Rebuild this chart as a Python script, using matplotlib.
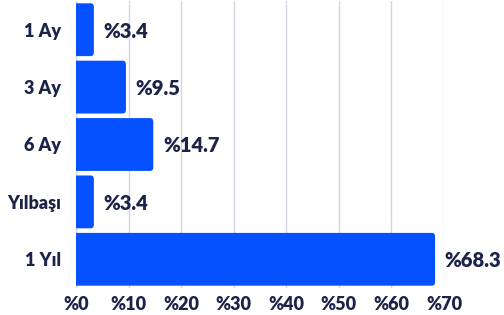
import matplotlib.pyplot as plt
from matplotlib.patches import FancyBboxPatch

categories = ["1 Ay", "3 Ay", "6 Ay", "Yılbaşı", "1 Yıl"]
values = [3.4, 9.5, 14.7, 3.4, 68.3]
xticks = [0, 10, 20, 30, 40, 50, 60, 70]

bar_color = "#0551FF"
text_color = "#1B2448"
grid_color = "#D3D6E2"

plt.rcParams["font.family"] = ["Lato", "DejaVu Sans"]

fig = plt.figure(figsize=(5.04, 3.15), dpi=100)
ax = fig.add_axes([76 / 504, 1 - 288 / 315, (444 - 76) / 504, 287 / 315])

ypos = list(range(len(categories)))
bars = ax.barh(ypos, values, height=0.92, color=bar_color, zorder=3)

# swap plain bars for ones with rounded right corners
for b in bars:
    x0, y0, w, h = b.get_x(), b.get_y(), b.get_width(), b.get_height()
    b.set_visible(False)
    p = FancyBboxPatch((x0 - 1.0, y0), w + 1.0, h,
                       boxstyle="round,pad=0,rounding_size=0.6",
                       mutation_aspect=0.11,
                       facecolor=bar_color, edgecolor="none", zorder=3)
    ax.add_patch(p)

for y, v in zip(ypos, values):
    ax.annotate(f"%{v}", xy=(v, y), xytext=(7, -1), textcoords="offset points",
                va="center", ha="left", fontsize=14.5, fontweight="heavy",
                color=text_color)

ax.set_xlim(0, 70)
ax.set_ylim(len(categories) - 0.5, -0.5)
ax.set_xticks(xticks)
ax.set_xticklabels([f"%{t}" for t in xticks])
ax.set_yticks(ypos)
ax.set_yticklabels(categories)
ax.tick_params(axis="both", length=0, labelsize=13, labelcolor=text_color)
ax.tick_params(axis="y", pad=11)
ax.tick_params(axis="x", pad=6)
for lbl in ax.get_xticklabels() + ax.get_yticklabels():
    lbl.set_fontweight("heavy")

ax.grid(axis="x", color=grid_color, linewidth=1, zorder=0)
for s in ax.spines.values():
    s.set_visible(False)

fig.savefig("out.png", dpi=100)
